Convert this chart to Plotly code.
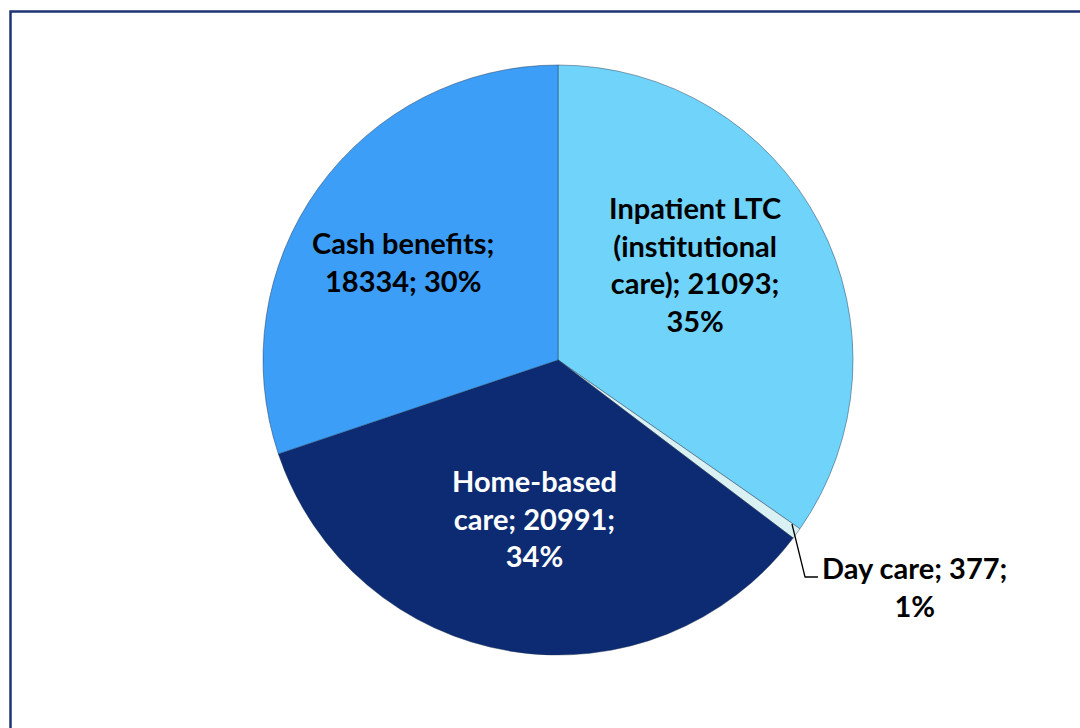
import plotly.graph_objects as go

# Long-term care spending by type of service
categories = ["Inpatient LTC (institutional care)", "Day care", "Home-based care", "Cash benefits"]
values = [21093, 377, 20991, 18334]
percents = [35, 1, 34, 30]
colors = ["#70D4FA", "#D9F1F2", "#0C2B73", "#3C9EF6"]

# wrapped label text, as shown on the chart
wrapped = [
    "Inpatient LTC<br>(institutional<br>care); {v};<br>{p}%",
    "Day care; {v};<br>{p}%",
    "Home-based<br>care; {v};<br>{p}%",
    "Cash benefits;<br>{v}; {p}%",
]
label_pos = [(695, 264), (914, 586), (534, 518), (403, 261)]
label_color = ["black", "black", "white", "black"]

W, H = 1080, 728
cx, cy, r = 558, 360, 295

fig = go.Figure(go.Pie(
    labels=categories,
    values=values,
    sort=False,
    direction="clockwise",
    rotation=0,
    marker=dict(colors=colors, line=dict(color="rgba(30,50,80,0.45)", width=1)),
    textinfo="none",
    hoverinfo="label+value+percent",
    domain=dict(x=[(cx - r) / W, (cx + r) / W], y=[(H - cy - r) / H, (H - cy + r) / H]),
))

for i, name in enumerate(categories):
    x, y = label_pos[i]
    fig.add_annotation(
        x=x / W, y=1 - y / H, xref="paper", yref="paper",
        xanchor="center", yanchor="middle",
        text="<b>" + wrapped[i].format(v=values[i], p=percents[i]) + "</b>",
        showarrow=False, align="center",
        font=dict(family="Lato", size=29, color=label_color[i]),
    )

# leader line for the small slice
fig.add_shape(type="path", xref="paper", yref="paper",
              path="M {:.4f} {:.4f} L {:.4f} {:.4f} L {:.4f} {:.4f}".format(
                  792 / W, 1 - 524 / H, 805 / W, 1 - 577 / H, 818 / W, 1 - 577 / H),
              line=dict(color="black", width=1.3))

# chart frame
fig.add_shape(type="rect", xref="paper", yref="paper",
              x0=10.5 / W, x1=1.05, y0=-0.05, y1=1 - 11.5 / H,
              line=dict(color="#1C3473", width=2.5))

fig.update_layout(
    width=W, height=H,
    margin=dict(l=0, r=0, t=0, b=0),
    paper_bgcolor="white",
    showlegend=False,
)

fig.write_html("out.html", config={"displayModeBar": False},
               post_script="document.body.style.margin='0';")
